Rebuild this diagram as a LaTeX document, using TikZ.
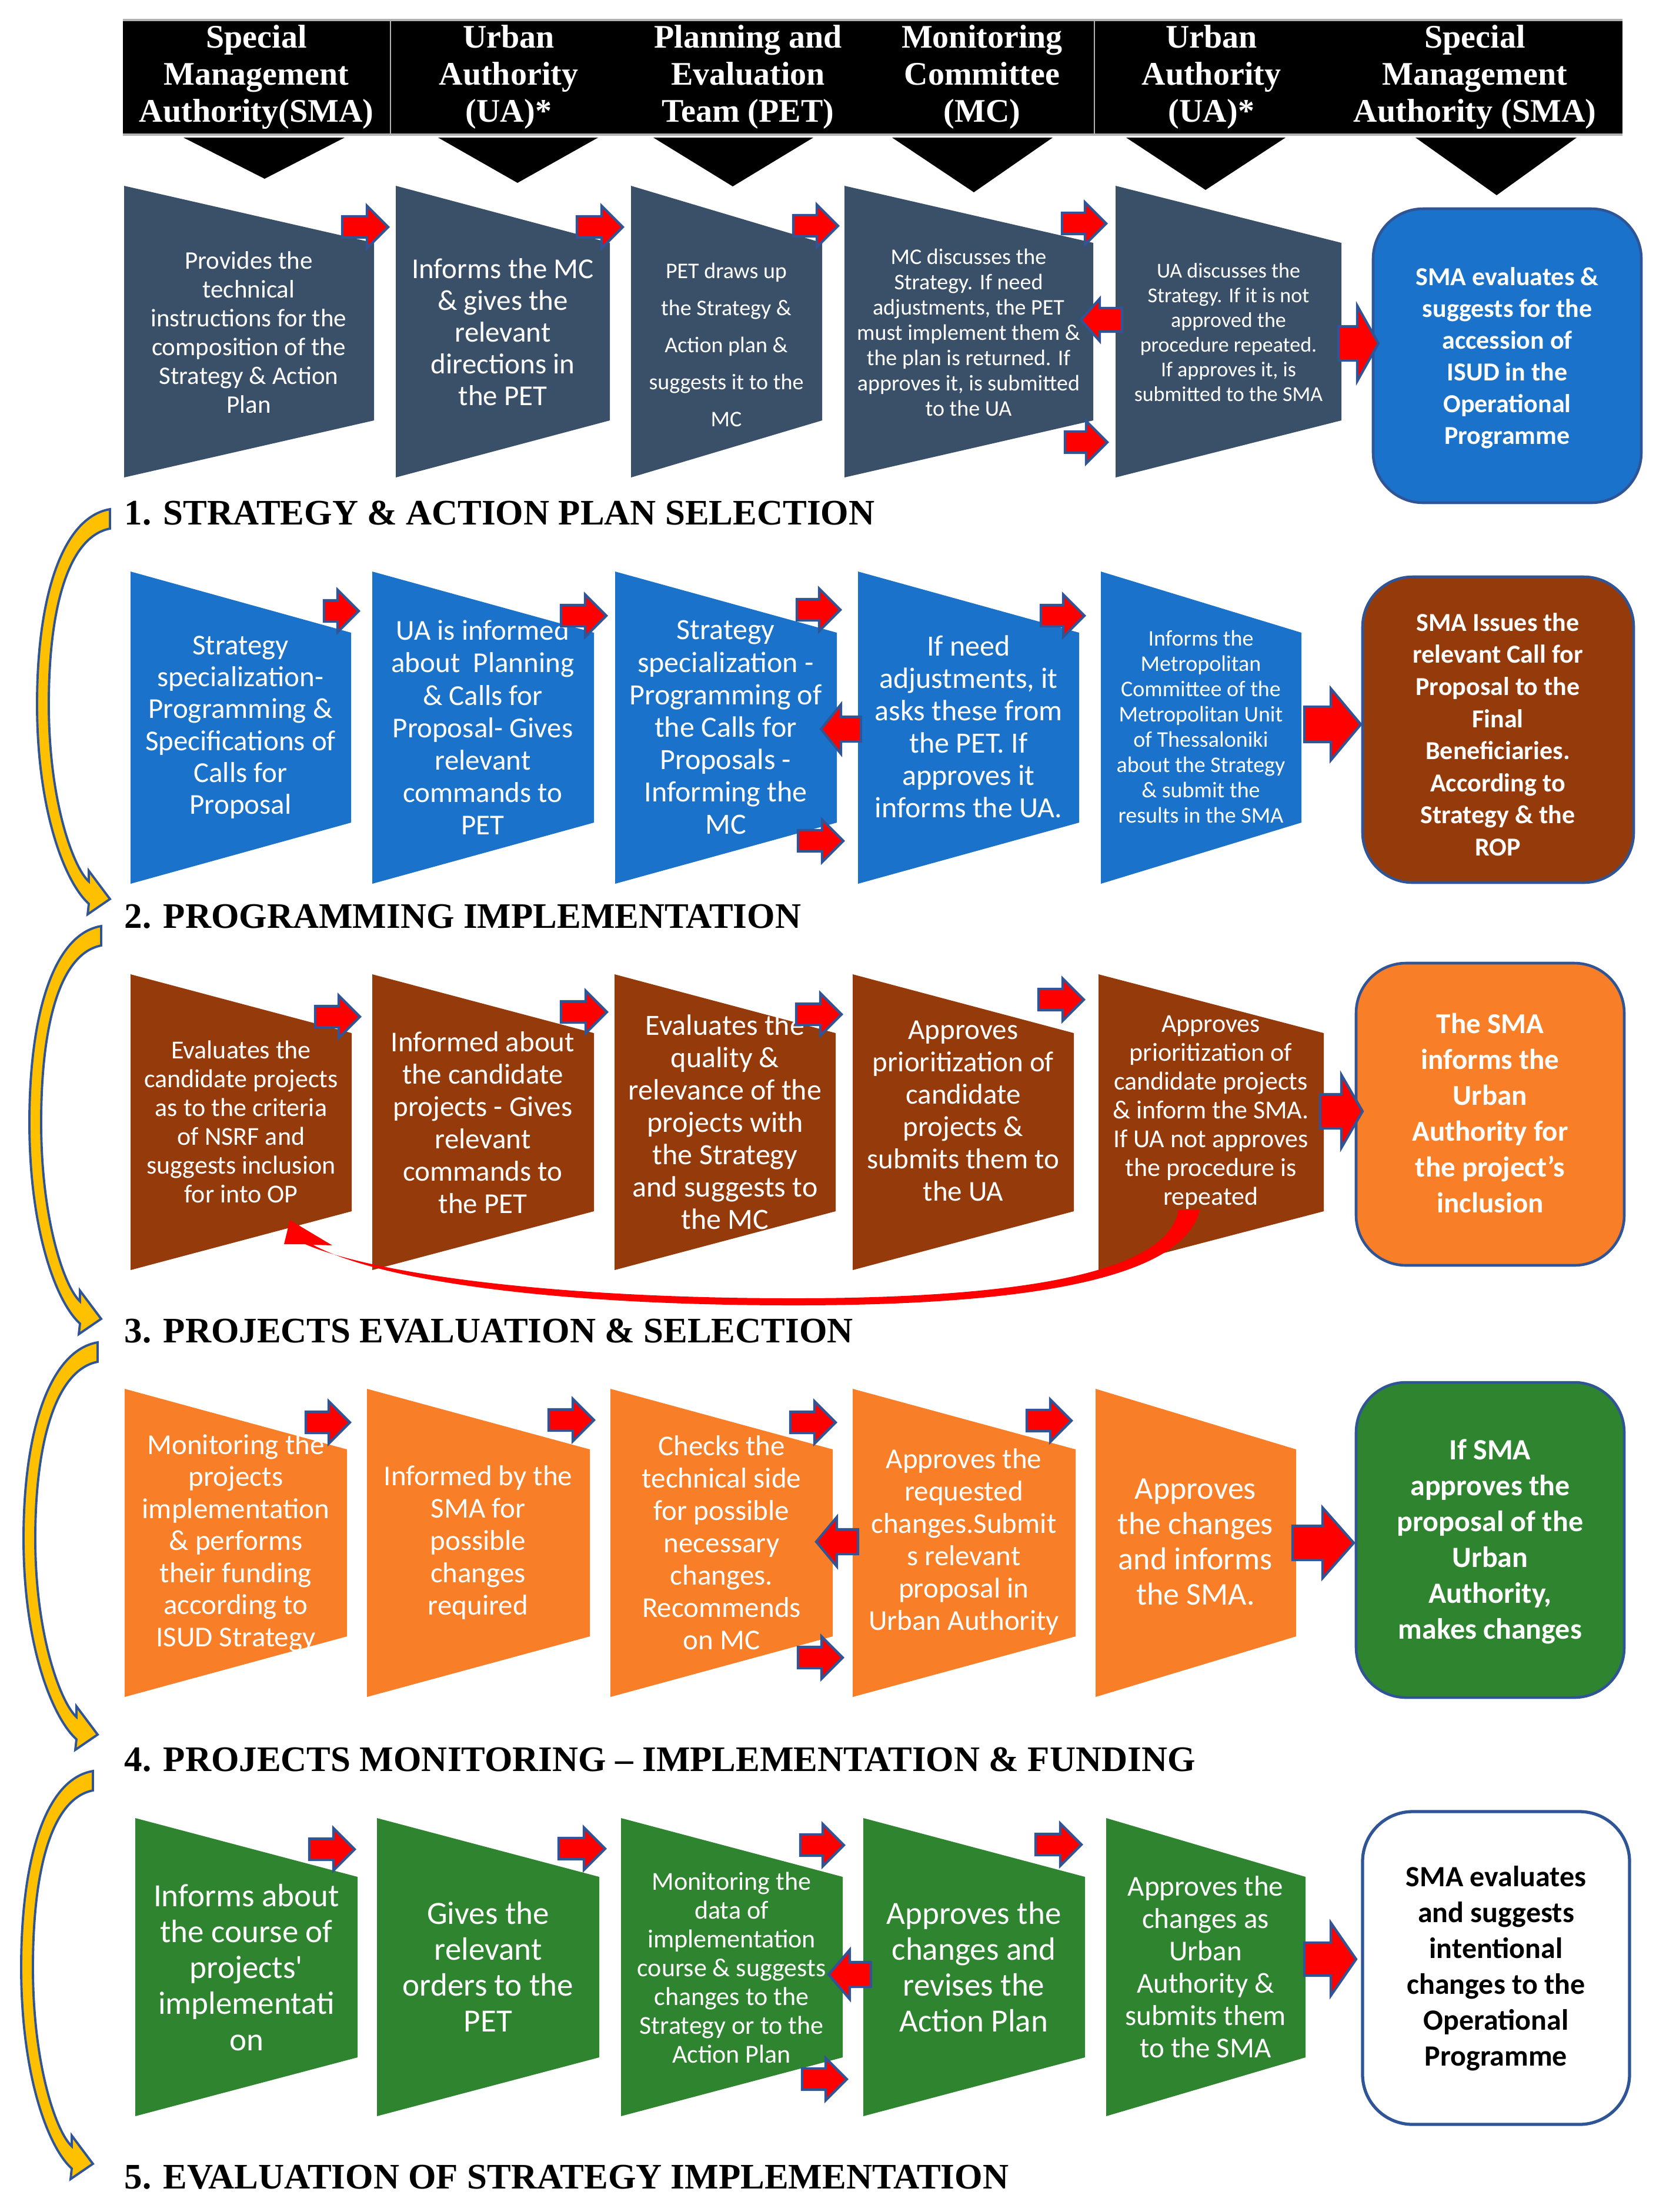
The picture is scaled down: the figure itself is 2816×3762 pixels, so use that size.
\documentclass[tikz,border=0pt]{standalone}
\usepackage{fontspec}
\setmainfont{Carlito}
\newfontfamily\tnr{Liberation Serif}
\newdimen\pxu \pxu=0.284528pt
\newcommand\fz[2]{\fontsize{\the\dimexpr#1\pxu\relax}{\the\dimexpr#2\pxu\relax}\selectfont}
\definecolor{slate}{HTML}{3A5068}
\definecolor{rblue}{HTML}{1A72CA}
\definecolor{rbrown}{HTML}{953A0A}
\definecolor{rorange}{HTML}{F97E28}
\definecolor{rgreen}{HTML}{2F8430}
\definecolor{edgeblue}{HTML}{2F5597}
\definecolor{gold}{HTML}{FFC000}
\newcommand\trap[6]{\fill[#6] (#1,#3) -- (#2,{#3+#5}) -- (#2,{#4-#5}) -- (#1,#4) -- cycle;}
\newcommand\barr[6]{\filldraw[barrow] (#1,{#4-#5}) -- (#2,{#4-#5}) -- (#2,{#4-#6}) -- (#3,#4) -- (#2,{#4+#6}) -- (#2,{#4+#5}) -- (#1,{#4+#5}) -- cycle;}
\newcommand\sarr[3]{\barr{#1}{#2-36}{#2}{#3}{18}{36}}
\newcommand\goldarr[4]{%
 \pgfmathsetmacro\gaH{#2-#1}%
 \filldraw[goldarrow] (#4,#1) .. controls ({#4-80},{#1+0.02*\gaH}) and (#3,{#1+0.22*\gaH}) .. (#3,{#1+0.5*\gaH})
   .. controls (#3,{#1+0.78*\gaH}) and ({#4-75},{#2-0.04*\gaH}) .. ({#4-36},{#2+8})
   -- ({#4-38},{#2+26}) -- (#4,#2) -- ({#4-36},{#2-48}) -- ({#4-36},{#2-30})
   .. controls ({#4-62},{#2-0.08*\gaH}) and ({#3+20},{#1+0.75*\gaH}) .. ({#3+20},{#1+0.5*\gaH})
   .. controls ({#3+20},{#1+0.25*\gaH}) and ({#4-70},{#1+0.07*\gaH}) .. (#4,{#1+33}) -- cycle;}
\tikzset{
  txt/.style={text=white, align=center, inner sep=0pt},
  hdr/.style={text=white, align=center, inner sep=0pt, font=\tnr\bfseries\fz{56}{63}},
  sectitle/.style={anchor=west, inner sep=0pt, font=\tnr\bfseries\fz{61}{70}},
  barrow/.style={fill=red, draw=edgeblue, line width=1.2pt},
  goldarrow/.style={fill=gold, draw=edgeblue, line width=1.1pt},
  rbox/.style={rounded corners=0.85cm, draw=edgeblue, line width=1.3pt}
}
\begin{document}
\begin{tikzpicture}[x=0.01cm,y=-0.01cm]
\useasboundingbox (0,0) rectangle (2816,3762);

% ---------- header ----------
\fill[black] (209,34) rectangle (2759,229);
\draw[gray!60, line width=1pt] (209,34) -- (2759,34) (209,229) -- (2759,229);
\draw[gray!60, line width=0.8pt] (664,36) -- (664,227) (1861,36) -- (1861,227);
\node[hdr] (h1) at (436,131) {Special\\Management\\Authority(SMA)};
\node[hdr] (h2) at (865,131) {Urban\\Authority\\(UA)*};
\node[hdr] (h3) at (1272,131) {Planning and\\Evaluation\\Team (PET)};
\node[hdr] (h4) at (1670,131) {Monitoring\\Committee\\(MC)};
\node[hdr] (h5) at (2060,131) {Urban\\Authority\\(UA)*};
\node[hdr] (h6) at (2508,131) {Special\\Management\\Authority (SMA)};
\fill[black] (312,234) -- (586,234) -- (450,304) -- cycle;
\fill[black] (745,234) -- (1017,234) -- (880,311) -- cycle;
\fill[black] (1111,234) -- (1383,234) -- (1246,317) -- cycle;
\fill[black] (1517,234) -- (1790,234) -- (1656,327) -- cycle;
\fill[black] (1915,234) -- (2186,234) -- (2050,323) -- cycle;
\fill[black] (2407,234) -- (2681,234) -- (2545,332) -- cycle;

% ---------- row 1 ----------
\trap{211}{636}{316}{812}{97}{slate}
\trap{673}{1037}{316}{812}{97}{slate}
\trap{1073}{1398}{316}{812}{97}{slate}
\trap{1436}{1859}{316}{812}{97}{slate}
\trap{1897}{2281}{316}{812}{97}{slate}
\fill[rbox, fill=rblue] (2335,355) rectangle (2791,855);
\node[txt, font=\fz{43}{49}] (r1a) at (423,565) {Provides the\\technical\\instructions for the\\composition of the\\Strategy \& Action\\Plan};
\node[txt, font=\fz{49}{54}] (r1b) at (855,565) {Informs the MC\\\& gives the\\relevant\\directions in\\the PET};
\node[txt, font=\fz{38}{63}] (r1c) at (1235,586) {PET draws up\\the Strategy \&\\Action plan \&\\suggests it to the\\MC};
\node[txt, font=\fz{38}{43}] (r1d) at (1647,565) {MC discusses the\\Strategy. If need\\adjustments, the PET\\must implement them \&\\the plan is returned. If\\approves it, is submitted\\to the UA};
\node[txt, font=\fz{36}{42}] (r1e) at (2089,565) {UA discusses the\\Strategy. If it is not\\approved the\\procedure repeated.\\If approves it, is\\submitted to the SMA};
\node[txt, font=\bfseries\fz{44}{54}] (r1f) at (2563,609) {SMA evaluates \&\\suggests for the\\accession of\\ISUD in the\\Operational\\Programme};
\sarr{582}{660}{386}
\sarr{981}{1059}{386}
\sarr{1349}{1425}{384}
\sarr{1806}{1881}{380}
\sarr{1811}{1883}{752}
\barr{1908}{1870}{1838}{544}{20}{36}
\barr{2276}{2308}{2344}{584}{29}{64}
\node[sectitle] (t1) at (211,873) {1. STRATEGY \& ACTION PLAN SELECTION};

% ---------- row 2 ----------
\trap{222}{597}{972}{1503}{104}{rblue}
\trap{633}{1010}{972}{1503}{104}{rblue}
\trap{1046}{1423}{972}{1503}{104}{rblue}
\trap{1459}{1835}{972}{1503}{104}{rblue}
\trap{1872}{2213}{972}{1503}{104}{rblue}
\fill[rbox, fill=rbrown] (2317,981) rectangle (2778,1501);
\node[txt, font=\fz{49}{54}] (r2a) at (409,1237) {Strategy\\specialization-\\Programming \&\\Specifications of\\Calls for\\Proposal};
\node[txt, font=\fz{49}{55}] (r2b) at (821,1237) {UA is informed\\about\ \ Planning\\\& Calls for\\Proposal- Gives\\relevant\\commands to\\PET};
\node[txt, font=\fz{50}{55}] (r2c) at (1234,1237) {Strategy\\specialization -\\Programming of\\the Calls for\\Proposals -\\Informing the\\MC};
\node[txt, font=\fz{50}{55}] (r2d) at (1647,1236) {If need\\adjustments, it\\asks these from\\the PET. If\\approves it\\informs the UA.};
\node[txt, font=\fz{38}{43}] (r2e) at (2042,1236) {Informs the\\Metropolitan\\Committee of the\\Metropolitan Unit\\of Thessaloniki\\about the Strategy\\\& submit the\\results in the SMA};
\node[txt, font=\bfseries\fz{44}{54.5}] (r2f) at (2547,1249) {SMA Issues the\\relevant Call for\\Proposal to the\\Final\\Beneficiaries.\\According to\\Strategy \& the\\ROP};
\sarr{551}{610}{1039}
\sarr{954}{1031}{1047}
\sarr{1355}{1429}{1037}
\sarr{1770}{1844}{1047}
\sarr{1357}{1434}{1430}
\barr{1464}{1430}{1396}{1240}{21}{42}
\barr{2218}{2263}{2314}{1232}{30}{61}
\node[sectitle] (t2) at (211,1559) {2. PROGRAMMING IMPLEMENTATION};

% ---------- row 3 ----------
\trap{222}{598}{1657}{2160}{100}{rbrown}
\trap{633}{1010}{1657}{2160}{100}{rbrown}
\trap{1045}{1421}{1657}{2160}{100}{rbrown}
\trap{1450}{1826}{1657}{2160}{100}{rbrown}
\trap{1868}{2251}{1657}{2160}{100}{rbrown}
\fill[rbox, fill=rorange] (2306,1638) rectangle (2762,2152);
\node[txt, font=\fz{44}{49}] (r3a) at (410,1908) {Evaluates the\\candidate projects\\as to the criteria\\of NSRF and\\suggests inclusion\\for into OP};
\node[txt, font=\fz{49}{55}] (r3b) at (821,1909) {Informed about\\the candidate\\projects - Gives\\relevant\\commands to\\the PET};
\node[txt, font=\fz{50}{55}] (r3c) at (1233,1908) {Evaluates the\\quality \&\\relevance of the\\projects with\\the Strategy\\and suggests to\\the MC};
\node[txt, font=\fz{49}{55}] (r3d) at (1638,1889) {Approves\\prioritization of\\candidate\\projects \&\\submits them to\\the UA};
\node[txt, font=\fz{44}{49}] (r3e) at (2059,1892) {Approves\\prioritization of\\candidate projects\\\& inform the SMA.\\If UA not approves\\the procedure is\\repeated};
\node[txt, font=\bfseries\fz{49}{61}] (r3f) at (2534,1893) {The SMA\\informs the\\Urban\\Authority for\\the project’s\\inclusion};
\sarr{536}{612}{1729}
\sarr{954}{1032}{1721}
\sarr{1354}{1431}{1725}
\sarr{1766}{1843}{1700}
\barr{2245}{2281}{2317}{1890}{29}{62}
% red return arrow
\fill[red] (2004,2058) -- (2040,2058) .. controls (2010,2185) and (1700,2220) .. (1350,2220)
   .. controls (950,2220) and (650,2180) .. (532,2117)
   -- (565,2118) -- (493,2075) -- (483,2116) -- (519,2116)
   .. controls (640,2168) and (950,2208) .. (1350,2208)
   .. controls (1700,2208) and (1985,2172) .. (2004,2058) -- cycle;
\node[sectitle] (t3) at (211,2264) {3. PROJECTS EVALUATION \& SELECTION};

% ---------- row 4 ----------
\trap{212}{590}{2362}{2886}{103}{rorange}
\trap{624}{1003}{2362}{2886}{103}{rorange}
\trap{1038}{1416}{2362}{2886}{103}{rorange}
\trap{1450}{1829}{2362}{2886}{103}{rorange}
\trap{1863}{2204}{2362}{2886}{103}{rorange}
\fill[rbox, fill=rgreen] (2306,2351) rectangle (2762,2887);
\node[txt, font=\fz{49}{54.5}] (r4a) at (401,2624) {Monitoring the\\projects\\implementation\\\& performs\\their funding\\according to\\ISUD Strategy};
\node[txt, font=\fz{49}{55}] (r4b) at (813,2623) {Informed by the\\SMA for\\possible\\changes\\required};
\node[txt, font=\fz{49}{55}] (r4c) at (1227,2624) {Checks the\\technical side\\for possible\\necessary\\changes.\\Recommends\\on MC};
\node[txt, font=\fz{49}{55}] (r4d) at (1639,2622) {Approves the\\requested\\changes.Submit\\s relevant\\proposal in\\Urban Authority};
\node[txt, font=\fz{54}{60}] (r4e) at (2033,2622) {Approves\\the changes\\and informs\\the SMA.};
\node[txt, font=\bfseries\fz{50}{61}] (r4f) at (2534,2622) {If SMA\\approves the\\proposal of the\\Urban\\Authority,\\makes changes};
\sarr{520}{595}{2419}
\sarr{933}{1010}{2415}
\sarr{1344}{1421}{2419}
\sarr{1746}{1822}{2416}
\sarr{1357}{1433}{2819}
\barr{1459}{1423}{1388}{2622}{21}{42}
\barr{2198}{2249}{2302}{2624}{29}{60}
\node[sectitle] (t4) at (211,2993) {4. PROJECTS MONITORING – IMPLEMENTATION \& FUNDING};

% ---------- row 5 ----------
\trap{230}{608}{3092}{3599}{100}{rgreen}
\trap{641}{1019}{3092}{3599}{100}{rgreen}
\trap{1056}{1433}{3092}{3599}{100}{rgreen}
\trap{1468}{1845}{3092}{3599}{100}{rgreen}
\trap{1881}{2220}{3092}{3599}{100}{rgreen}
\filldraw[rbox, fill=white, line width=1.5pt] (2317,3081) rectangle (2771,3613);
\node[txt, font=\fz{55}{61}] (r5a) at (419,3346) {Informs about\\the course of\\projects\textquotesingle\\implementati\\on};
\node[txt, font=\fz{55}{61}] (r5b) at (830,3345) {Gives the\\relevant\\orders to the\\PET};
\node[txt, font=\fz{44}{49}] (r5c) at (1244,3346) {Monitoring the\\data of\\implementation\\course \& suggests\\changes to the\\Strategy or to the\\Action Plan};
\node[txt, font=\fz{55}{61}] (r5d) at (1656,3345) {Approves the\\changes and\\revises the\\Action Plan};
\node[txt, font=\fz{49}{55}] (r5e) at (2050,3345) {Approves the\\changes as\\Urban\\Authority \&\\submits them\\to the SMA};
\node[txt, text=black, font=\bfseries\fz{50}{61}] (r5f) at (2544,3348) {SMA evaluates\\and suggests\\intentional\\changes to the\\Operational\\Programme};
\sarr{526}{603}{3145}
\sarr{950}{1029}{3144}
\sarr{1361}{1435}{3138}
\sarr{1761}{1839}{3137}
\sarr{1364}{1440}{3536}
\barr{1481}{1445}{1409}{3358}{21}{42}
\barr{2218}{2263}{2306}{3332}{28}{62}
\node[sectitle] (t5) at (211,3703) {5. EVALUATION OF STRATEGY IMPLEMENTATION};

% ---------- curved gold arrows ----------
\goldarr{866}{1529}{63}{187}
\goldarr{1575}{2243}{50}{172}
\goldarr{2283}{2950}{40}{166}
\goldarr{3012}{3680}{36}{158}
\end{tikzpicture}
\end{document}
